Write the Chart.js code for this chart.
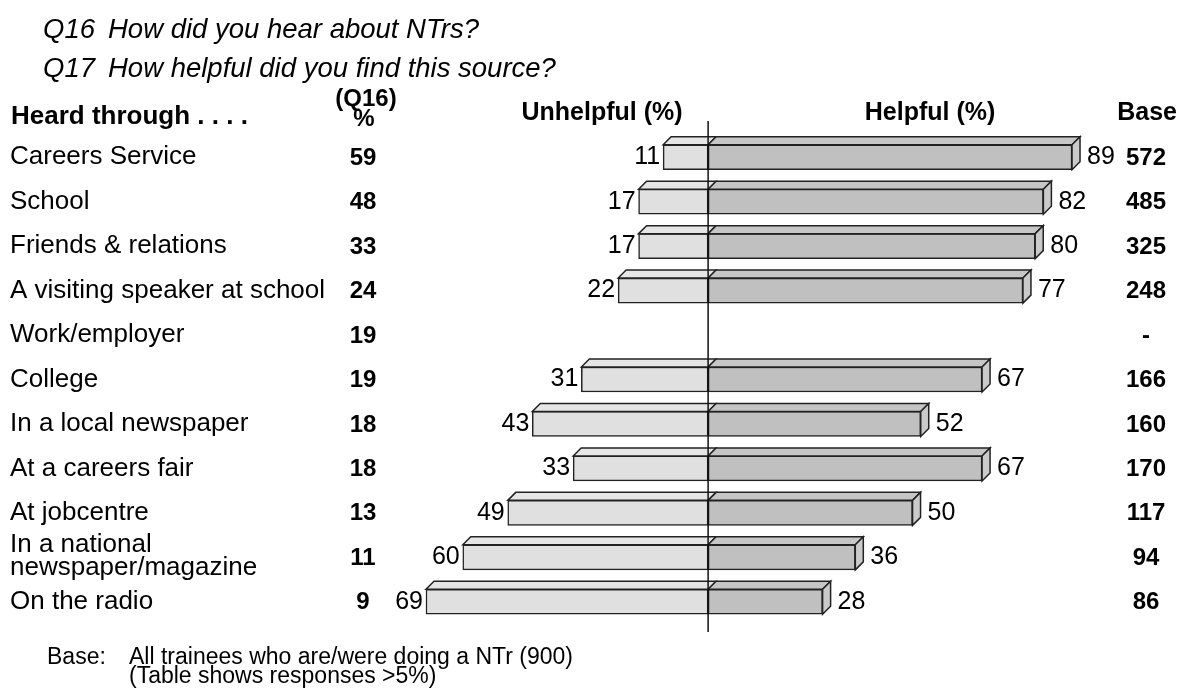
<!DOCTYPE html>
<html>
<head>
<meta charset="utf-8">
<script src="https://cdn.jsdelivr.net/npm/chart.js@4"></script>
<style>
  html, body { margin: 0; padding: 0; background: #fff; }
  canvas { display: block; }
</style>
</head>
<body>
<canvas id="sources-chart" width="1179" height="695"></canvas>
<script>
// ==== Data ====
var sources = ['Careers Service', 'School', 'Friends & relations', 'A visiting speaker at school',
  'Work/employer', 'College', 'In a local newspaper', 'At a careers fair', 'At jobcentre',
  ['In a national', 'newspaper/magazine'], 'On the radio'];
var heardPct = [59, 48, 33, 24, 19, 19, 18, 18, 13, 11, 9];
var unhelpful = [11, 17, 17, 22, null, 31, 43, 33, 49, 60, 69];
var helpful = [89, 82, 80, 77, null, 67, 52, 67, 50, 36, 28];
var bases = ['572', '485', '325', '248', '-', '166', '160', '170', '117', '94', '86'];

var FONT = '"Liberation Sans", Arial, sans-serif';
var DEPTH = 8;

// ==== 3D faces, table columns and value labels ====
var tablePlugin = {
  id: 'tablePlugin',
  afterDatasetsDraw: function (chart) {
    var ctx = chart.ctx;
    var xs = chart.scales.x, ys = chart.scales.y;
    var zero = xs.getPixelForValue(0);
    var left = chart.getDatasetMeta(0).data;
    var right = chart.getDatasetMeta(1).data;

    ctx.save();
    ctx.lineWidth = 1.5;
    ctx.strokeStyle = '#222';
    ctx.lineJoin = 'miter';

    function face(pts, fill) {
      ctx.beginPath();
      ctx.moveTo(pts[0][0], pts[0][1]);
      for (var k = 1; k < pts.length; k++) ctx.lineTo(pts[k][0], pts[k][1]);
      ctx.closePath();
      ctx.fillStyle = fill;
      ctx.fill();
      ctx.stroke();
    }

    for (var i = 0; i < sources.length; i++) {
      if (unhelpful[i] == null || helpful[i] == null) continue;
      var l = left[i], r = right[i];
      var top = l.y - l.height / 2, bot = l.y + l.height / 2;
      var L = l.x, R = r.x;
      // top faces
      face([[L, top], [L + DEPTH, top - DEPTH], [zero + DEPTH, top - DEPTH], [zero, top]], '#e6e6e6');
      face([[zero, top], [zero + DEPTH, top - DEPTH], [R + DEPTH, top - DEPTH], [R, top]], '#c6c6c6');
      // right side face
      face([[R, top], [R + DEPTH, top - DEPTH], [R + DEPTH, bot - DEPTH], [R, bot]], '#cacaca');
    }

    // centre line
    ctx.beginPath();
    ctx.lineWidth = 1.5;
    ctx.strokeStyle = '#111';
    ctx.moveTo(zero, 121);
    ctx.lineTo(zero, 632);
    ctx.stroke();

    ctx.fillStyle = '#000';

    // titles
    ctx.font = 'italic 27.5px ' + FONT;
    ctx.textAlign = 'left';
    ctx.textBaseline = 'alphabetic';
    ctx.fillText('Q16', 43, 38);
    ctx.fillText('How did you hear about NTrs?', 108, 38);
    ctx.fillText('Q17', 43, 77);
    ctx.fillText('How helpful did you find this source?', 108, 77);

    // column headers
    ctx.textBaseline = 'middle';
    ctx.font = 'bold 26px ' + FONT;
    ctx.fillText('Heard through . . . .', 11, 117);
    ctx.font = 'bold 24px ' + FONT;
    ctx.textAlign = 'center';
    ctx.fillText('(Q16)', 366, 99);
    ctx.fillText('%', 364, 119);
    ctx.font = 'bold 25px ' + FONT;
    ctx.fillText('Unhelpful (%)', 602, 113);
    ctx.fillText('Helpful (%)', 930, 113);
    ctx.textAlign = 'right';
    ctx.fillText('Base', 1177, 113);

    for (var j = 0; j < sources.length; j++) {
      var y = ys.getPixelForValue(j);
      ctx.font = '26px ' + FONT;
      ctx.textAlign = 'left';
      var lab = sources[j];
      if (Array.isArray(lab)) {
        ctx.fillText(lab[0], 10, y - 12);
        ctx.fillText(lab[1], 10, y + 11);
      } else {
        ctx.fillText(lab, 10, y);
      }
      ctx.font = 'bold 24px ' + FONT;
      ctx.textAlign = 'center';
      ctx.fillText(String(heardPct[j]), 363, y + 1);
      ctx.fillText(bases[j], 1146, y + 1);

      if (unhelpful[j] != null) {
        ctx.font = '25px ' + FONT;
        ctx.textAlign = 'right';
        ctx.fillText(String(unhelpful[j]), left[j].x - 3, y);
        ctx.textAlign = 'left';
        ctx.fillText(String(helpful[j]), right[j].x + DEPTH + 7, y);
      }
    }

    // footnote
    ctx.font = '23px ' + FONT;
    ctx.textAlign = 'left';
    ctx.fillText('Base:', 47, 658);
    ctx.fillText('All trainees who are/were doing a NTr (900)', 129, 658);
    ctx.fillText('(Table shows responses >5%)', 129, 677);
    ctx.restore();
  }
};

var ctxSources = document.getElementById('sources-chart').getContext('2d');
var sourcesChart = new Chart(ctxSources, {
  type: 'bar',
  data: {
    labels: sources,
    datasets: [{
      label: 'Unhelpful (%)',
      data: unhelpful.map(function (v) { return v == null ? null : -v; }),
      backgroundColor: '#e0e0e0',
      borderColor: '#222',
      borderWidth: 1.5,
      borderSkipped: false,
      barThickness: 25
    }, {
      label: 'Helpful (%)',
      data: helpful,
      backgroundColor: '#c0c0c0',
      borderColor: '#222',
      borderWidth: 1.5,
      borderSkipped: false,
      barThickness: 25
    }]
  },
  options: {
    indexAxis: 'y',
    responsive: false,
    animation: false,
    layout: { padding: { left: 381, right: 62, top: 135, bottom: 71 } },
    scales: {
      x: { stacked: true, min: -80, max: 100, display: false },
      y: { stacked: true, display: false }
    },
    plugins: {
      legend: { display: false },
      tooltip: { enabled: false }
    }
  },
  plugins: [tablePlugin]
});
</script>
</body>
</html>
